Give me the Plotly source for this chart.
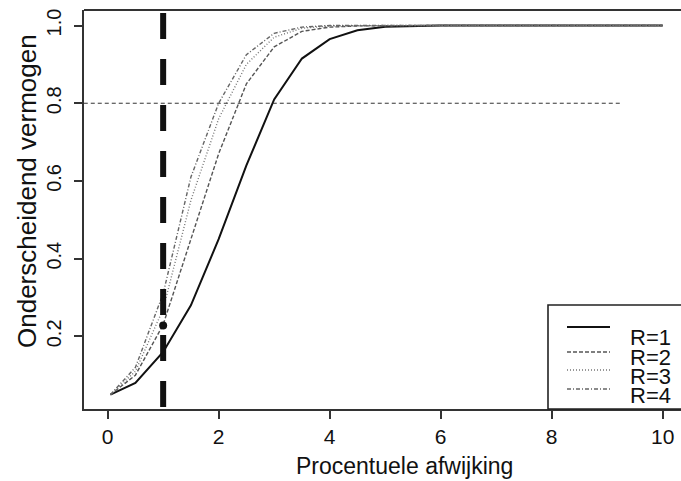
import plotly.graph_objects as go

# ---- data ----
x_grid = [0.05, 0.5, 1.0, 1.5, 2.0, 2.5, 3.0, 3.5, 4.0, 4.5, 5.0, 5.5, 6.0, 7.0, 8.0, 9.0, 10.0]
r1 = [0.05, 0.08, 0.16, 0.28, 0.45, 0.64, 0.81, 0.915, 0.965, 0.988, 0.997, 0.999, 1.0, 1.0, 1.0, 1.0, 1.0]
r2 = [0.05, 0.10, 0.23, 0.45, 0.67, 0.85, 0.945, 0.985, 0.996, 0.999, 1.0, 1.0, 1.0, 1.0, 1.0, 1.0, 1.0]
r3 = [0.05, 0.11, 0.27, 0.55, 0.76, 0.90, 0.97, 0.993, 0.999, 1.0, 1.0, 1.0, 1.0, 1.0, 1.0, 1.0, 1.0]
r4 = [0.05, 0.12, 0.31, 0.61, 0.80, 0.925, 0.98, 0.996, 1.0, 1.0, 1.0, 1.0, 1.0, 1.0, 1.0, 1.0, 1.0]
series_names = ["R=1", "R=2", "R=3", "R=4"]
series_values = [r1, r2, r3, r4]

ref_power = 0.8
ref_power_x = [-0.43, 9.25]
ref_shift = 1.0
ref_point_x = [1.0]
ref_point_y = [0.228]

x_ticks = [0, 2, 4, 6, 8, 10]
y_ticks = [0.2, 0.4, 0.6, 0.8, 1.0]
y_tick_labels = ["0.2", "0.4", "0.6", "0.8", "1.0"]

# ---- styling ----
styles = [
    dict(color="#111111", width=2.0, dash="solid"),
    dict(color="#555555", width=1.4, dash="4px,2px"),
    dict(color="#777777", width=1.4, dash="1px,2px"),
    dict(color="#666666", width=1.4, dash="4px,2px,1px,2px"),
]
FONT = "Liberation Sans, Arial, sans-serif"
W, H = 681, 481
ML, MR, MT, MB = 84, 0, 10, 72
PW, PH = W - ML - MR, H - MT - MB


def px_x(p):
    return (p - ML) / PW


def px_y(p):
    return (H - MB - p) / PH


fig = go.Figure()

for name, vals, st in zip(series_names, series_values, styles):
    fig.add_trace(go.Scatter(x=x_grid, y=vals, mode="lines", name=name,
                             line=st, showlegend=False))

# horizontal reference at 0.8
fig.add_trace(go.Scatter(x=ref_power_x, y=[ref_power] * len(ref_power_x), mode="lines",
                         line=dict(color="#333333", width=1, dash="4px,3px"),
                         showlegend=False))
# black dot on the vertical line
fig.add_trace(go.Scatter(x=ref_point_x, y=ref_point_y, mode="markers",
                         marker=dict(color="#111111", size=8), showlegend=False))

shapes = []
# thick vertical dashed line at x=1 (drawn from top down)
shapes.append(dict(type="line", xref="x", yref="paper", x0=ref_shift, x1=ref_shift,
                   y0=px_y(13), y1=0, line=dict(color="#111111", width=6, dash="26px,20px")))
# top border
shapes.append(dict(type="line", xref="paper", yref="paper", x0=0, x1=1, y0=1, y1=1,
                   line=dict(color="#333333", width=2)))
# legend box
shapes.append(dict(type="rect", xref="paper", yref="paper", x0=px_x(548), x1=px_x(700),
                   y0=0, y1=px_y(305), line=dict(color="#222222", width=1.6),
                   fillcolor="white", layer="above"))
legend_line_y = [327, 352, 370, 389]
legend_text_y = [337, 357, 376, 395]
annotations = []
for name, st, ly, ty in zip(series_names, styles, legend_line_y, legend_text_y):
    shapes.append(dict(type="line", xref="paper", yref="paper", x0=px_x(567), x1=px_x(610),
                       y0=px_y(ly), y1=px_y(ly), line=st, layer="above"))
    annotations.append(dict(xref="paper", yref="paper", x=px_x(628), y=px_y(ty),
                            text=name, showarrow=False, xanchor="left", yanchor="middle",
                            font=dict(family=FONT, size=22, color="#111111")))

# axis titles as annotations for exact placement
annotations.append(dict(xref="paper", yref="paper", x=px_x(404), y=px_y(466),
                        text="Procentuele afwijking", showarrow=False,
                        xanchor="center", yanchor="middle",
                        font=dict(family=FONT, size=23, color="#111111")))
annotations.append(dict(xref="paper", yref="paper", x=px_x(27), y=px_y(191),
                        text="Onderscheidend vermogen", showarrow=False, textangle=-90,
                        xanchor="center", yanchor="middle",
                        font=dict(family=FONT, size=26, color="#111111")))

fig.update_layout(
    width=W, height=H,
    margin=dict(l=ML, r=MR, t=MT, b=MB, autoexpand=False),
    paper_bgcolor="white", plot_bgcolor="white",
    font=dict(family=FONT, color="#111111"),
    shapes=shapes, annotations=annotations,
    showlegend=False,
)
fig.update_xaxes(range=[-0.426, 10.33], tickvals=x_ticks, ticks="outside", ticklen=8,
                 tickwidth=1.5, tickcolor="#333333", showline=True, linecolor="#333333",
                 linewidth=2, showgrid=False, zeroline=False, automargin=False,
                 tickfont=dict(size=21, family=FONT))
fig.update_yaxes(range=[0.013, 1.04], tickvals=y_ticks, ticktext=y_tick_labels,
                 tickangle=-90, ticks="outside", ticklen=8, tickwidth=1.5,
                 tickcolor="#333333", showline=True, linecolor="#333333", linewidth=2,
                 showgrid=False, zeroline=False, automargin=False, ticklabelstandoff=5,
                 tickfont=dict(size=20, family=FONT))

fig.write_html("out.html", config={"displayModeBar": False},
               post_script="document.body.style.margin='0';document.body.style.overflow='hidden';")
